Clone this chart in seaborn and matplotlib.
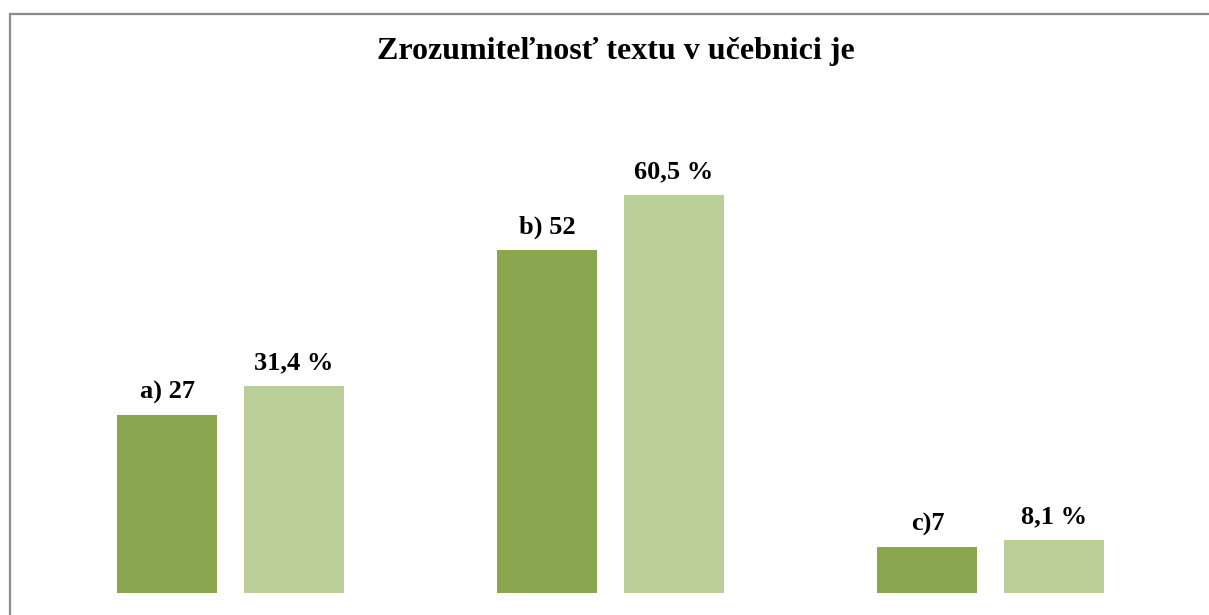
import matplotlib
matplotlib.use("Agg")
import matplotlib.pyplot as plt
from matplotlib.lines import Line2D
import seaborn as sns
import pandas as pd

# Data
categories = ["a", "b", "c"]
counts = [27, 52, 7]
percents = [31.4, 60.5, 8.1]
count_labels = ["a) 27", "b) 52", "c)7"]
percent_labels = ["31,4 %", "60,5 %", "8,1 %"]
title = "Zrozumiteľnosť textu v učebnici je"

df = pd.DataFrame({
    "category": categories * 2,
    "series": ["count"] * 3 + ["percent"] * 3,
    "value": counts + percents,
})

W, H = 1209, 615
fig = plt.figure(figsize=(W / 100, H / 100), dpi=100)
fig.patch.set_facecolor("white")

ax_left, ax_bottom, ax_top = 10, 22, 99
ax = fig.add_axes([ax_left / W, ax_bottom / H, (W - ax_left) / W, (H - ax_bottom - ax_top) / H])

sns.barplot(data=df, x="category", y="value", hue="series",
            palette={"count": "#8AA64F", "percent": "#BBCF98"},
            width=0.667, gap=0.21, linewidth=0, saturation=1,
            legend=False, ax=ax)

ax.set_ylim(0, 75)
ax.set_xlim(-0.58, 2.574)
ax.axis("off")

font = dict(family="Liberation Serif", weight="bold", size=19, color="black")
for container, labels in zip(ax.containers, [count_labels, percent_labels]):
    for bar, lab in zip(container, labels):
        xc = bar.get_x() + bar.get_width() / 2
        ax.annotate(lab, (xc, bar.get_height()), xytext=(0, 12),
                    textcoords="offset points", ha="center", va="baseline", **font)

fig.text(616 / W, 1 - 59 / H, title, ha="center", va="baseline",
         family="Liberation Serif", weight="bold", size=23, color="black")

# Chart frame (left and top edges visible)
fig.add_artist(Line2D([10 / W, 10 / W], [0, 1 - 14 / H], transform=fig.transFigure,
                      color="#8C8C8C", linewidth=1.6))
fig.add_artist(Line2D([10 / W, 1], [1 - 14 / H, 1 - 14 / H], transform=fig.transFigure,
                      color="#8C8C8C", linewidth=1.6))

fig.savefig("out.png", dpi=100, facecolor="white")
